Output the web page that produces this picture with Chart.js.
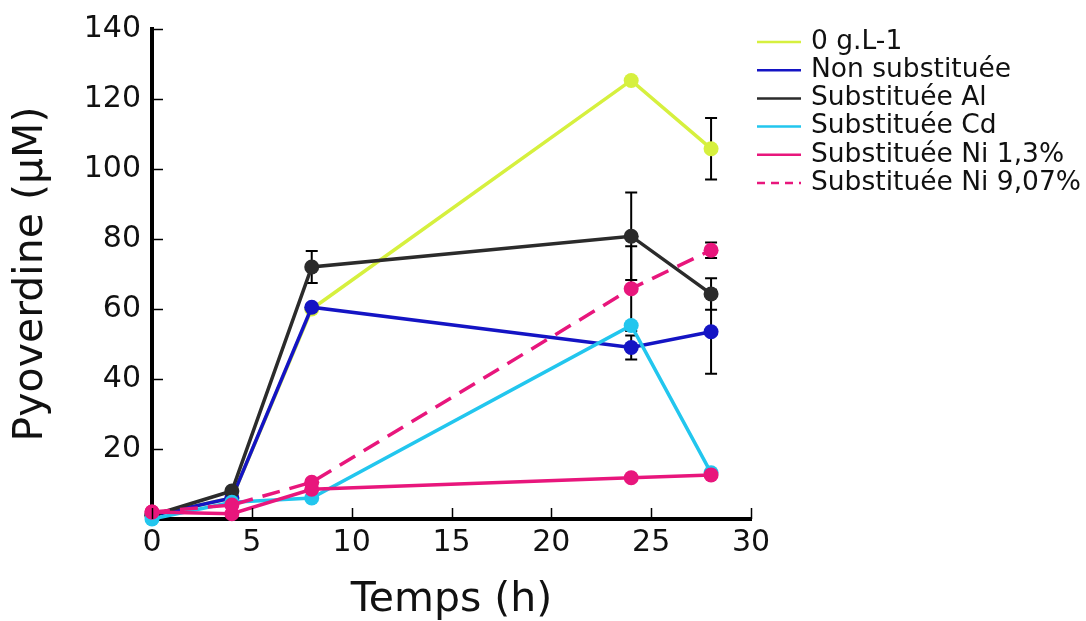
<!DOCTYPE html>
<html>
<head>
<meta charset="utf-8">
<title>Pyoverdine</title>
<script src="https://cdn.jsdelivr.net/npm/chart.js@4.4.1/dist/chart.umd.min.js"></script>
<style>
  html, body { margin: 0; padding: 0; background: #fff; }
  #chart { display: block; }
</style>
</head>
<body>
<canvas id="chart" width="1086" height="621"></canvas>
<script>
// temps de prélèvement (h)
const temps = [0, 4, 8, 24, 28];

const seriesLabels = ['0 g.L-1', 'Non substituée', 'Substituée Al', 'Substituée Cd', 'Substituée Ni 1,3%', 'Substituée Ni 9,07%'];

// pyoverdine (µM)
const zero = [1, 6, 60, 125.3, 105.8];
const nonSubst = [1, 6, 60.5, 49, 53.5];
const substAl = [1, 8, 72, 80.8, 64.3];
const substCd = [0, 4.8, 6, 55.3, 13.2];
const substNi13 = [2, 1.5, 8.5, 11.8, 12.6];
const substNi907 = [2, 4, 10.5, 65.8, 76.8];

// barres d'erreur, null = pas de barre
const errZero = [null, null, null, null, 8.8];
const errNonSubst = [null, null, null, 3.4, 12];
const errAl = [null, null, 4.6, 12.5, 4.5];
const errCd = [null, null, null, null, null];
const errNi13 = [null, null, null, null, null];
const errNi907 = [null, null, null, 12.1, 2.2];

const yTicks = [20, 40, 60, 80, 100, 120, 140];
const xTicks = [0, 5, 10, 15, 20, 25, 30];

const FONT = "'DejaVu Sans', 'Liberation Sans', sans-serif";

function pts(vals) {
  return temps.map((t, i) => ({ x: t, y: vals[i] }));
}

function serie(i, vals, errs, color, dash) {
  return {
    label: seriesLabels[i],
    data: pts(vals),
    errors: errs,
    borderColor: color,
    backgroundColor: color,
    pointBackgroundColor: color,
    pointBorderWidth: 0,
    pointRadius: 7.5,
    pointHoverRadius: 7.5,
    borderWidth: 3.5,
    borderDash: dash || [],
    tension: 0,
    clip: false,
    order: 10 - i  // les dernières séries passent au-dessus
  };
}

// barres d'erreur sous les courbes
const errorBars = {
  id: 'errorBars',
  beforeDatasetsDraw(chart) {
    const { ctx, scales: { x, y } } = chart;
    ctx.save();
    ctx.strokeStyle = '#000';
    ctx.lineWidth = 2;
    chart.data.datasets.forEach(ds => {
      (ds.errors || []).forEach((e, i) => {
        if (e == null) return;
        const px = x.getPixelForValue(ds.data[i].x);
        const top = y.getPixelForValue(ds.data[i].y + e);
        const bot = y.getPixelForValue(ds.data[i].y - e);
        ctx.beginPath();
        ctx.moveTo(px, top); ctx.lineTo(px, bot);
        ctx.moveTo(px - 6, top); ctx.lineTo(px + 6, top);
        ctx.moveTo(px - 6, bot); ctx.lineTo(px + 6, bot);
        ctx.stroke();
      });
    });
    ctx.restore();
  }
};

// graduations tournées vers l'intérieur + légende
const decor = {
  id: 'decor',
  afterDraw(chart) {
    const { ctx, chartArea: a, scales: { x, y } } = chart;
    ctx.save();
    ctx.strokeStyle = '#000';
    ctx.lineWidth = 1.5;
    ctx.beginPath();
    yTicks.forEach(v => {
      const py = Math.round(y.getPixelForValue(v)) + 0.5;
      ctx.moveTo(a.left, py); ctx.lineTo(a.left + 11, py);
    });
    xTicks.forEach(v => {
      const px = Math.round(x.getPixelForValue(v)) + 0.5;
      ctx.moveTo(px, a.bottom); ctx.lineTo(px, a.bottom - 11);
    });
    ctx.stroke();

    // légende
    ctx.font = '26.5px ' + FONT;
    ctx.textBaseline = 'middle';
    ctx.textAlign = 'left';
    chart.data.datasets.forEach((ds, i) => {
      const ly = 42 + i * 28.2;
      ctx.strokeStyle = ds.borderColor;
      ctx.lineWidth = 2.5;
      ctx.setLineDash(ds.borderDash.length ? [8, 6] : []);
      ctx.beginPath();
      ctx.moveTo(757, ly); ctx.lineTo(801, ly);
      ctx.stroke();
      ctx.setLineDash([]);
      ctx.fillStyle = '#111';
      ctx.fillText(ds.label, 811, ly);
    });
    ctx.restore();
  }
};

const ctx = document.getElementById('chart').getContext('2d');
new Chart(ctx, {
  type: 'line',
  data: {
    datasets: [
      serie(0, zero, errZero, '#d6f03e'),
      serie(1, nonSubst, errNonSubst, '#1414c4'),
      serie(2, substAl, errAl, '#2b2b2b'),
      serie(3, substCd, errCd, '#22c6ee'),
      serie(4, substNi13, errNi13, '#e8167c'),
      serie(5, substNi907, errNi907, '#e8167c', [18, 10])
    ]
  },
  options: {
    responsive: false,
    animation: false,
    devicePixelRatio: 1,
    layout: { padding: { top: 27, right: 335, left: 0, bottom: 0 } },
    plugins: {
      legend: { display: false },
      tooltip: { enabled: false }
    },
    scales: {
      x: {
        type: 'linear',
        min: 0,
        max: 30,
        afterFit(scale) { scale.height = 102; },
        afterBuildTicks(scale) { scale.ticks = xTicks.map(v => ({ value: v })); },
        grid: { display: false, drawTicks: false },
        border: { display: true, color: '#000', width: 4 },
        ticks: { color: '#111', padding: 6, font: { family: FONT, size: 30 } },
        title: {
          display: true,
          text: 'Temps (h)',
          color: '#111',
          padding: { top: 0, bottom: 0 },
          font: { family: FONT, size: 41, lineHeight: 1 }
        }
      },
      y: {
        type: 'linear',
        min: 0,
        max: 140,
        afterFit(scale) { scale.width = 152; },
        afterBuildTicks(scale) { scale.ticks = [0].concat(yTicks).map(v => ({ value: v })); },
        grid: { display: false, drawTicks: false },
        border: { display: true, color: '#000', width: 4 },
        ticks: {
          color: '#111',
          padding: 11,
          font: { family: FONT, size: 30 },
          callback: v => (v === 0 ? '' : v)
        },
        title: {
          display: true,
          text: 'Pyoverdine (µM)',
          color: '#111',
          padding: { top: 11, bottom: 0 },
          font: { family: FONT, size: 41, lineHeight: 1 }
        }
      }
    }
  },
  plugins: [errorBars, decor]
});
</script>
</body>
</html>
